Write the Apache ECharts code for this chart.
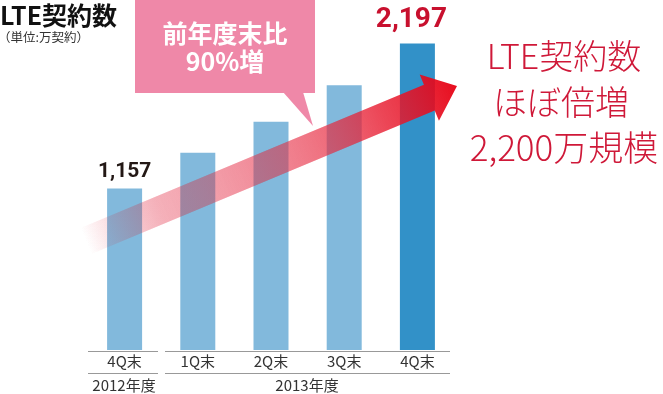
<!DOCTYPE html>
<html><head><meta charset="utf-8">
<script src="https://cdn.jsdelivr.net/npm/echarts@6/dist/echarts.min.js"></script>
<style>html,body{margin:0;padding:0;background:#fff}#c{width:663px;height:394px}</style>
</head><body><div id="c"></div>
<script>
const categories = ['4Q末', '1Q末', '2Q末', '3Q末', '4Q末'];
const values = [1157, 1413, 1635, 1898, 2197];
const valueLabels = ['1,157', '', '', '', '2,197'];
const yearLabels = ['2012年度', '2013年度'];
const titleText = 'LTE契約数';
const unitText = '（単位:万契約）';
const calloutLines = ['前年度末比', '90%増'];
const sideLines = ['LTE契約数', 'ほぼ倍増', '2,200万規模'];

const JP = '"Noto Sans CJK JP", sans-serif';
const NUM = 'Roboto, "Noto Sans CJK JP", sans-serif';
const chart = echarts.init(document.getElementById('c'), null, {renderer: 'canvas'});

const data = values.map((v, i) => ({
  value: v,
  itemStyle: {color: i === values.length - 1 ? '#3291c8' : '#82b9dc'},
  label: valueLabels[i] ? {
    show: true, position: 'top', distance: i === values.length - 1 ? 9 : 6,
    formatter: valueLabels[i],
    color: i === values.length - 1 ? '#c8102e' : '#231815',
    fontSize: i === values.length - 1 ? 28 : 21, fontWeight: 'bold', fontFamily: NUM,
    offset: i === values.length - 1 ? [-6, 0] : [0, 0]
  } : {show: false}
}));

// arrow geometry
const S = [86, 241], T = [457, 86];
const dx = T[0]-S[0], dy = T[1]-S[1], L = Math.hypot(dx, dy);
const u = [dx/L, dy/L], n = [-u[1], u[0]];
const hw = 14, headLen = 30, headHw = 25;
const B = [T[0]-headLen*u[0], T[1]-headLen*u[1]];
const P = (p, k) => [p[0]+k*n[0], p[1]+k*n[1]];
const arrowPts = [P(S,-hw), P(B,-hw), P(B,-headHw), T, P(B,headHw), P(B,hw), P(S,hw)];

chart.setOption({
  animation: false,
  grid: {left: 88, width: 366, top: 43, bottom: 44},
  xAxis: {
    type: 'category', data: categories,
    axisLine: {show: false}, axisTick: {show: false},
    axisLabel: {color: '#333', fontSize: 15, fontFamily: JP, margin: 4}
  },
  yAxis: {type: 'value', min: 0, max: 2200, show: false, splitLine: {show: false}},
  series: [{type: 'bar', data: data, barWidth: 35, z: 2}],
  graphic: [
    {type: 'text', left: 0, top: 3, style: {text: titleText, font: 'bold 25px ' + JP, fill: '#111'}},
    {type: 'text', left: -2, top: 31, style: {text: unitText, font: '12.5px ' + JP, fill: '#333'}},
    {type: 'rect', shape: {x: 135, y: 0, width: 180, height: 93}, style: {fill: '#ef88a8'}, z: 5},
    {type: 'polygon', shape: {points: [[283, 92], [303, 92], [313, 126]]}, style: {fill: '#ef88a8'}, z: 5},
    {type: 'text', x: 225, y: 33, style: {text: calloutLines[0], font: 'bold 25px ' + JP, fill: '#fff', align: 'center', verticalAlign: 'middle'}, z: 6},
    {type: 'text', x: 225, y: 61, style: {text: calloutLines[1], font: 'bold 25px ' + JP, fill: '#fff', align: 'center', verticalAlign: 'middle'}, z: 6},
    {type: 'polygon', shape: {points: arrowPts}, z: 9,
      style: {blend: 'multiply', fill: new echarts.graphic.LinearGradient(S[0], S[1], T[0], T[1], [
        {offset: 0, color: 'rgba(230,90,110,0)'},
        {offset: 0.2, color: 'rgba(230,90,110,0.35)'},
        {offset: 0.5, color: 'rgba(230,90,110,0.4)'},
        {offset: 0.85, color: 'rgba(230,90,110,0.1)'},
        {offset: 1, color: 'rgba(230,90,110,0)'}
      ], true)}},
    {type: 'polygon', shape: {points: arrowPts}, z: 10,
      style: {fill: new echarts.graphic.LinearGradient(S[0], S[1], T[0], T[1], [
        {offset: 0, color: 'rgba(240,120,135,0)'},
        {offset: 0.15, color: 'rgba(240,120,135,0.22)'},
        {offset: 0.5, color: 'rgba(236,80,100,0.5)'},
        {offset: 0.8, color: 'rgba(232,30,50,0.8)'},
        {offset: 1, color: 'rgba(230,0,18,0.95)'}
      ], true)}},
    {type: 'text', x: 564, y: 56, style: {text: sideLines[0], font: '300 34px ' + JP, fill: '#cf1838', align: 'center', verticalAlign: 'middle'}},
    {type: 'text', x: 561, y: 102, style: {text: sideLines[1], font: '300 34px ' + JP, fill: '#cf1838', align: 'center', verticalAlign: 'middle'}},
    {type: 'text', x: 564, y: 148, style: {text: sideLines[2], font: '300 35px ' + JP, fill: '#cf1838', align: 'center', verticalAlign: 'middle'}},
    {type: 'line', shape: {x1: 88, y1: 351.5, x2: 158, y2: 351.5}, style: {stroke: '#999', lineWidth: 1}},
    {type: 'line', shape: {x1: 165, y1: 351.5, x2: 450, y2: 351.5}, style: {stroke: '#999', lineWidth: 1}},
    {type: 'line', shape: {x1: 88, y1: 373.5, x2: 158, y2: 373.5}, style: {stroke: '#999', lineWidth: 1}},
    {type: 'line', shape: {x1: 165, y1: 373.5, x2: 450, y2: 373.5}, style: {stroke: '#999', lineWidth: 1}},
    {type: 'text', x: 124, y: 385, style: {text: yearLabels[0], font: '15px ' + JP, fill: '#333', align: 'center', verticalAlign: 'middle'}},
    {type: 'text', x: 307, y: 385, style: {text: yearLabels[1], font: '15px ' + JP, fill: '#333', align: 'center', verticalAlign: 'middle'}}
  ]
});
</script></body></html>
